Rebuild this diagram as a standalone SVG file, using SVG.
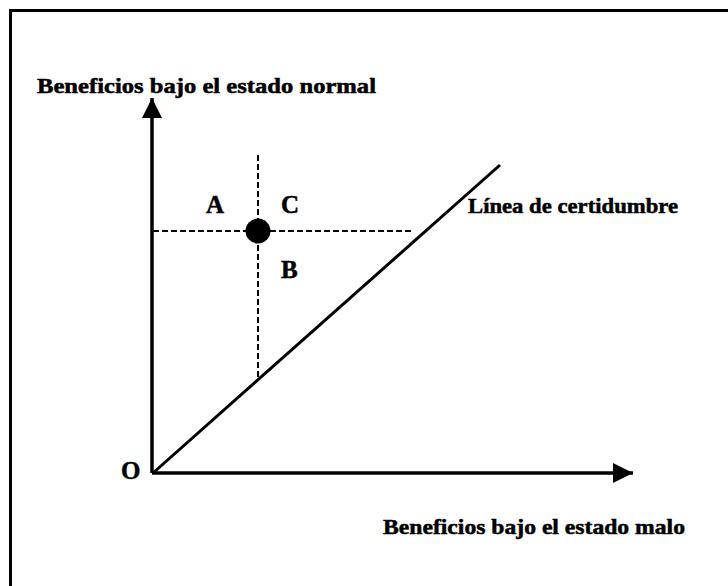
<svg xmlns="http://www.w3.org/2000/svg" width="728" height="586" viewBox="0 0 728 586">
<style>
.t{font-family:"Liberation Serif","Times New Roman",serif;font-weight:bold;fill:#000;stroke:#000;stroke-width:0.5}
.ax{stroke:#000;stroke-width:3.5;fill:none}
.dash{stroke:#000;stroke-width:2;stroke-dasharray:6 3;fill:none}
</style>
<defs>
<marker id="ah" markerUnits="userSpaceOnUse" markerWidth="22" markerHeight="22" refX="20" refY="10" orient="auto">
<path d="M0,0 L20,10 L0,20 Z" fill="#000"/>
</marker>
</defs>
<rect width="728" height="586" fill="#fff"/>
<rect x="10.5" y="10.5" width="730" height="590" fill="none" stroke="#000" stroke-width="3"/>
<g id="connectors">
<line class="ax" x1="152" y1="473" x2="152" y2="98" marker-end="url(#ah)"/>
<line class="ax" x1="152" y1="473" x2="633" y2="473" marker-end="url(#ah)"/>
<line x1="153" y1="473" x2="500" y2="165" stroke="#000" stroke-width="3"/>
<line class="dash" x1="153" y1="231" x2="413" y2="231"/>
<line class="dash" x1="258" y1="155" x2="258" y2="379"/>
</g>
<g id="point"><circle cx="258" cy="231" r="12.5" fill="#000"/></g>
<g id="label-y"><text class="t" x="37" y="93" font-size="21" textLength="339" lengthAdjust="spacingAndGlyphs">Beneficios bajo el estado normal</text></g>
<g id="label-x"><text class="t" x="383" y="534" font-size="21" textLength="302" lengthAdjust="spacingAndGlyphs">Beneficios bajo el estado malo</text></g>
<g id="label-line"><text class="t" x="468" y="213" font-size="21" textLength="210" lengthAdjust="spacingAndGlyphs">Línea de certidumbre</text></g>
<g id="label-A"><text class="t" x="206" y="213" font-size="25">A</text></g>
<g id="label-C"><text class="t" x="281" y="213" font-size="25">C</text></g>
<g id="label-B"><text class="t" x="281" y="278" font-size="25">B</text></g>
<g id="label-O"><text class="t" x="121" y="479" font-size="25">O</text></g>
</svg>
